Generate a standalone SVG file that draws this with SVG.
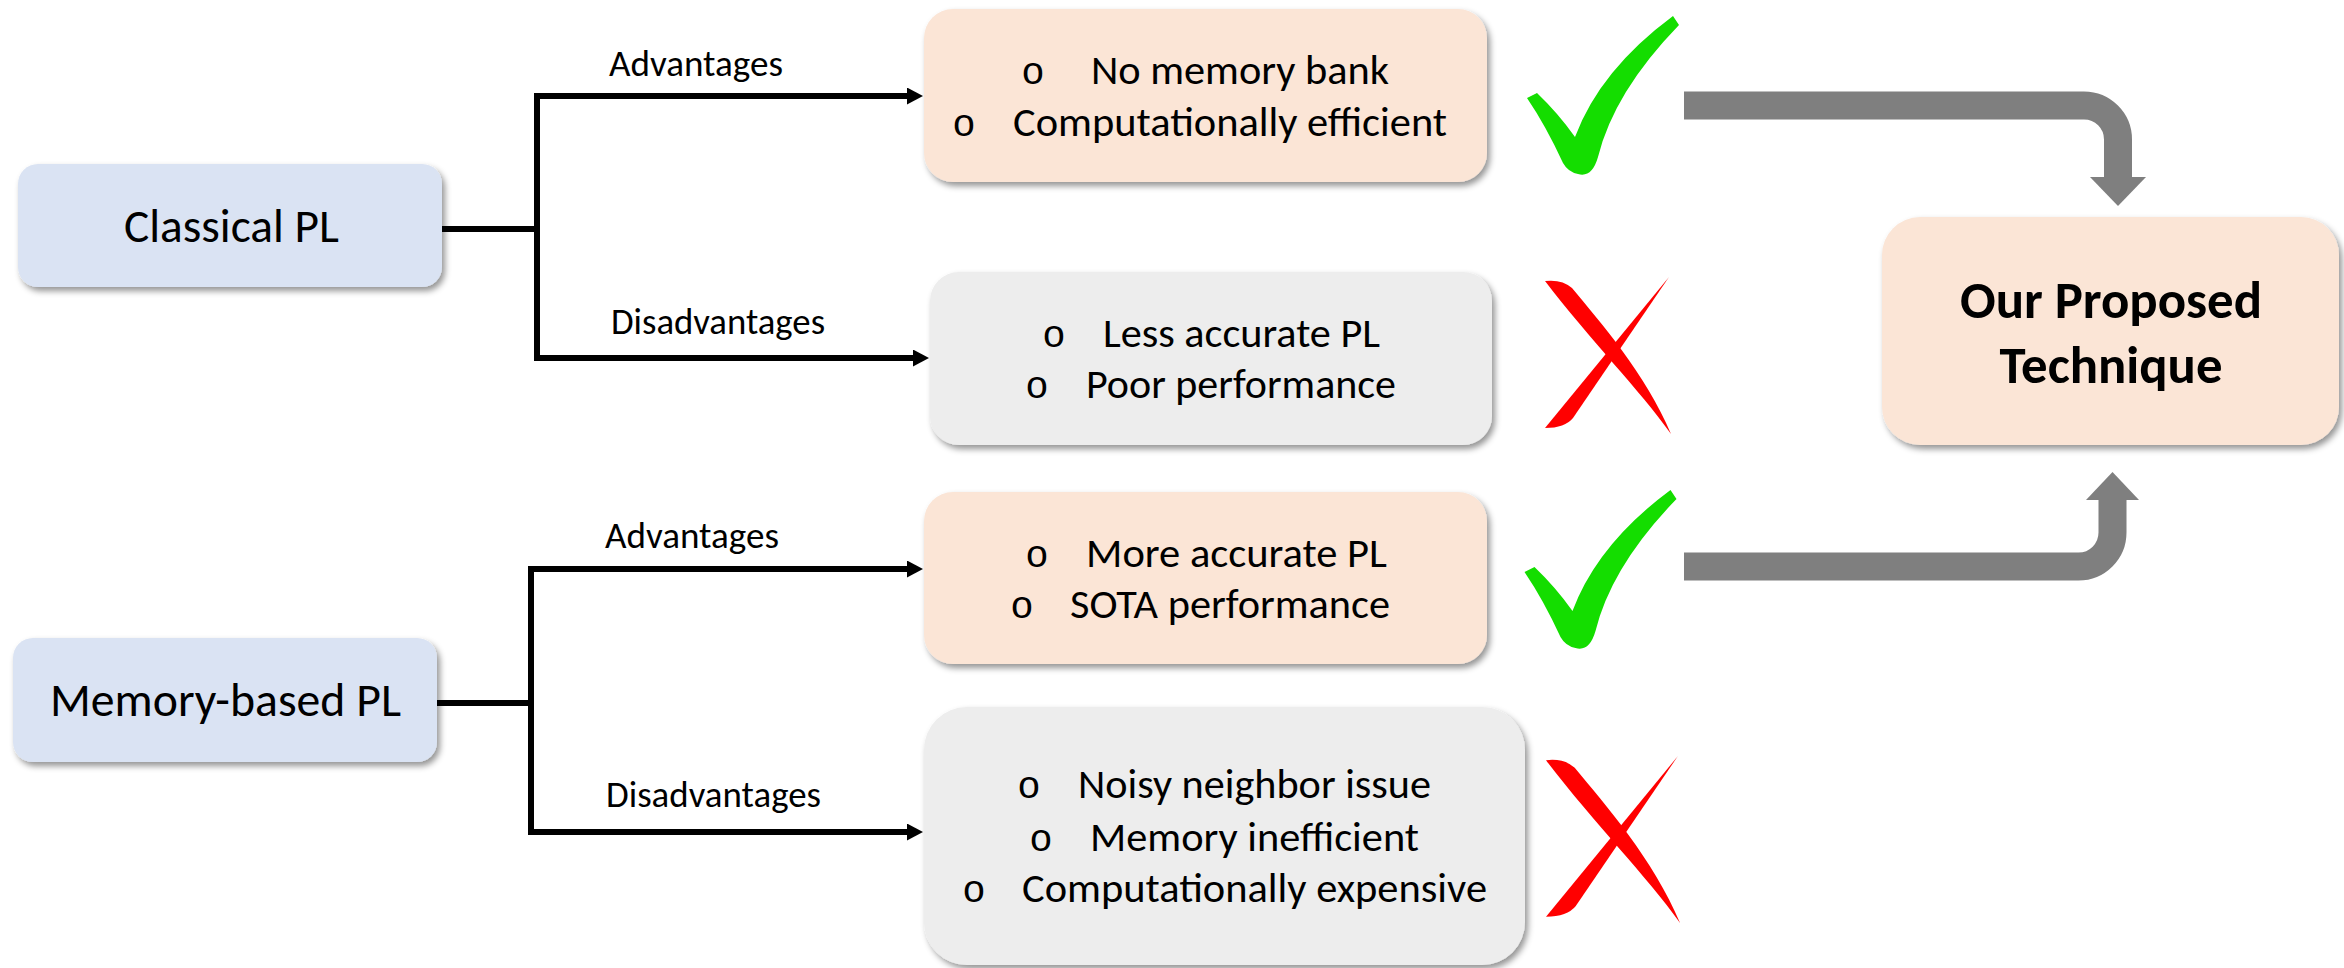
<svg xmlns="http://www.w3.org/2000/svg" xmlns:xlink="http://www.w3.org/1999/xlink" width="2344" height="968" viewBox="0 0 2344 968">
  <style>
    .t { font-family: Carlito, Calibri, Lato, "Liberation Sans", sans-serif; fill: #000; }
    .node { font-size: 47px; }
    .lbl { font-size: 36.5px; }
    .item { font-size: 42px; }
    .bul { font-family: "Liberation Mono", "DejaVu Sans Mono", monospace; font-size: 39px; fill: #000; text-anchor: middle; }
    .title { font-size: 52px; font-weight: bold; text-anchor: middle; }
    .blue { fill: #DAE3F3; filter: url(#shadow); }
    .peach { fill: #FBE5D6; filter: url(#shadow); }
    .grey { fill: #EDEDED; filter: url(#shadow); }
    .wire { fill: none; stroke: #000; stroke-width: 6; }
    .flow { fill: none; stroke: #7F7F7F; stroke-width: 28; }
    .flowhead { fill: #7F7F7F; }
    .tick { fill: #14DD00; }
    .cross { fill: #FF0000; }
  </style>
  <defs>
    <filter id="shadow" x="-10%" y="-10%" width="125%" height="130%">
      <feDropShadow dx="3" dy="4" stdDeviation="3" flood-color="#000" flood-opacity="0.42"/>
    </filter>
    <marker id="head" markerUnits="userSpaceOnUse" markerWidth="18" markerHeight="18" refX="2" refY="8.5" orient="auto">
      <path d="M0,0 L16,8.5 L0,17 Z" fill="#000"/>
    </marker>
    <!-- calligraphic check mark -->
    <path id="tickShape" d="M1527,98 L1537,93 Q1558,113 1575,137 Q1600,70 1673,16 L1679,25 Q1614,92 1598,157 Q1592,178 1578,174 Q1568,172 1563,163 Q1546,126 1527,98 Z"/>
    <!-- calligraphic cross -->
    <g id="crossShape">
      <path d="M1545,281 Q1562,279 1572,288 C1600,322 1646,374 1671,434 C1640,390 1590,340 1545,281 Z"/>
      <path d="M1669,277 L1573,418 Q1565,428 1545,428 Z"/>
    </g>
  </defs>

  <rect width="2344" height="968" fill="#FFFFFF"/>

  <!-- tree connectors and flow arrows -->
  <g id="connectors">
    <path class="wire" d="M442,229 H537"/>
    <path class="wire" d="M537,93 V361"/>
    <path class="wire" d="M534,96 H909" marker-end="url(#head)"/>
    <path class="wire" d="M534,358 H915" marker-end="url(#head)"/>

    <path class="wire" d="M437,703 H531"/>
    <path class="wire" d="M531,566 V835"/>
    <path class="wire" d="M528,569 H909" marker-end="url(#head)"/>
    <path class="wire" d="M528,832 H909" marker-end="url(#head)"/>

    <path class="flow" d="M1684,105.5 H2084 A34,34 0 0 1 2118,139.5 V178"/>
    <polygon class="flowhead" points="2090,177 2146,177 2118,206"/>
    <path class="flow" d="M1684,566.5 H2078.5 A34,34 0 0 0 2112.5,532.5 V499"/>
    <polygon class="flowhead" points="2086,500 2139,500 2112.5,472"/>

    <text class="t lbl" x="609" y="76" textLength="174" lengthAdjust="spacingAndGlyphs">Advantages</text>
    <text class="t lbl" x="611" y="334" textLength="214" lengthAdjust="spacingAndGlyphs">Disadvantages</text>
    <text class="t lbl" x="605" y="548" textLength="174" lengthAdjust="spacingAndGlyphs">Advantages</text>
    <text class="t lbl" x="606" y="807" textLength="215" lengthAdjust="spacingAndGlyphs">Disadvantages</text>
  </g>

  <g id="classical-pl">
    <rect class="blue" x="18" y="164" width="424" height="123" rx="20" ry="20"/>
    <text class="t node" x="124" y="242" textLength="215" lengthAdjust="spacingAndGlyphs">Classical PL</text>
  </g>

  <g id="memory-based-pl">
    <rect class="blue" x="13" y="638" width="424" height="124" rx="20" ry="20"/>
    <text class="t node" x="50" y="716" textLength="351" lengthAdjust="spacingAndGlyphs">Memory-based PL</text>
  </g>

  <g id="classical-advantages">
    <rect class="peach" x="924" y="9" width="563" height="173" rx="29" ry="29"/>
    <text class="bul" x="1033" y="84">o</text>
    <text class="t item" x="1091" y="84" textLength="298" lengthAdjust="spacingAndGlyphs">No memory bank</text>
    <text class="bul" x="964" y="136">o</text>
    <text class="t item" x="1013" y="136" textLength="434" lengthAdjust="spacingAndGlyphs">Computationally efficient</text>
  </g>

  <g id="classical-disadvantages">
    <rect class="grey" x="930" y="272" width="562" height="173" rx="29" ry="29"/>
    <text class="bul" x="1054" y="347">o</text>
    <text class="t item" x="1103" y="347" textLength="277" lengthAdjust="spacingAndGlyphs">Less accurate PL</text>
    <text class="bul" x="1037" y="398">o</text>
    <text class="t item" x="1086" y="398" textLength="310" lengthAdjust="spacingAndGlyphs">Poor performance</text>
  </g>

  <g id="memory-advantages">
    <rect class="peach" x="924" y="492" width="563" height="172" rx="29" ry="29"/>
    <text class="bul" x="1037" y="567">o</text>
    <text class="t item" x="1086" y="567" textLength="301" lengthAdjust="spacingAndGlyphs">More accurate PL</text>
    <text class="bul" x="1022" y="618">o</text>
    <text class="t item" x="1070" y="618" textLength="320" lengthAdjust="spacingAndGlyphs">SOTA performance</text>
  </g>

  <g id="memory-disadvantages">
    <rect class="grey" x="924" y="707" width="601" height="258" rx="43" ry="43"/>
    <text class="bul" x="1029" y="798">o</text>
    <text class="t item" x="1078" y="798" textLength="353" lengthAdjust="spacingAndGlyphs">Noisy neighbor issue</text>
    <text class="bul" x="1041" y="851">o</text>
    <text class="t item" x="1090" y="851" textLength="329" lengthAdjust="spacingAndGlyphs">Memory inefficient</text>
    <text class="bul" x="974" y="902">o</text>
    <text class="t item" x="1022" y="902" textLength="465" lengthAdjust="spacingAndGlyphs">Computationally expensive</text>
  </g>

  <g id="marks">
    <use xlink:href="#tickShape" class="tick"/>
    <use xlink:href="#tickShape" class="tick" transform="translate(-2.5,474)"/>
    <use xlink:href="#crossShape" class="cross"/>
    <use xlink:href="#crossShape" class="cross" transform="translate(1546,756) scale(1.064) translate(-1545,-277)"/>
  </g>

  <g id="proposed-technique">
    <rect class="peach" x="1882" y="217" width="457" height="228" rx="38" ry="38"/>
    <text class="t title" x="2111" y="318" textLength="302" lengthAdjust="spacingAndGlyphs">Our Proposed</text>
    <text class="t title" x="2111" y="383" textLength="223" lengthAdjust="spacingAndGlyphs">Technique</text>
  </g>
</svg>
